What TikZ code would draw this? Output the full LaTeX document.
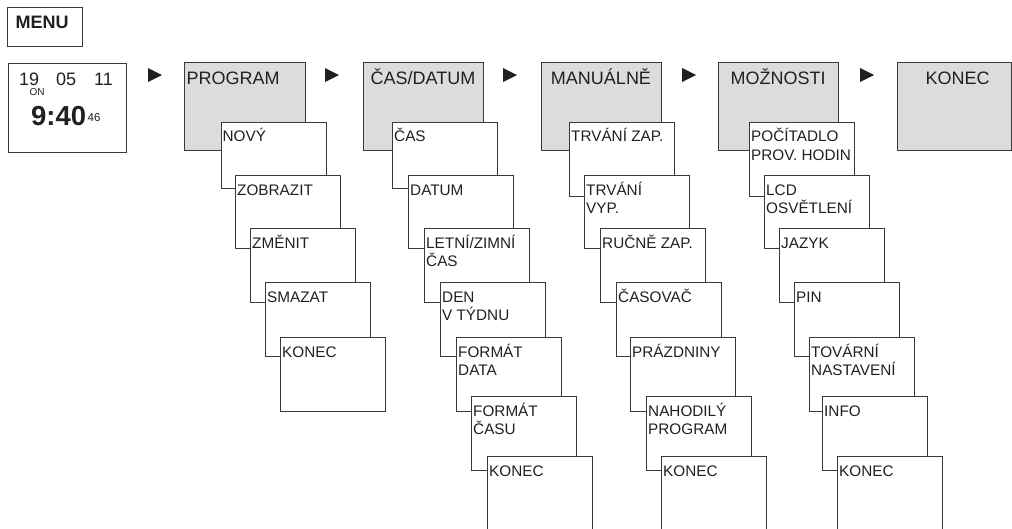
\documentclass[tikz,border=0pt]{standalone}
\usepackage{fontspec}
\setmainfont{Liberation Sans}
\definecolor{linec}{HTML}{3A3A3A}
\definecolor{boxgray}{HTML}{DCDCDC}
\definecolor{txt}{HTML}{231F20}
\newcommand\mysub[5]{%
  \node[subbox, minimum height={#4-#3}] (#1) at (#2,#3) {};
  \node[subtxt] (#1t) at ([xshift=2pt,yshift=-4pt]#1.north west) {\rule{0pt}{16pt}#5};}
\begin{document}
\begin{tikzpicture}[x=1pt,y=-1pt,
  plainbox/.style={draw=linec, line width=0.8pt, fill=white, rectangle, inner sep=0pt, anchor=north west},
  mainbox/.style={plainbox, fill=boxgray, minimum height=88},
  subbox/.style={plainbox, minimum width=105},
  subtxt/.style={anchor=north west, inner sep=0pt, align=left, text=txt, font=\fontsize{15.3}{18.3}\selectfont},
  maintxt/.style={inner sep=0pt, text=txt, font=\fontsize{18}{21}\selectfont},
  tri/.style={fill=txt}]
\useasboundingbox (0,0) rectangle (1012,528);
% MENU
\node[plainbox, minimum width=75, minimum height=39] (menu) at (7,7) {};
\node[inner sep=0pt, anchor=base west, text=txt, font=\fontsize{18}{21}\selectfont\bfseries] (menut) at (15.5,28.5) {MENU};
% clock
\node[plainbox, minimum width=118, minimum height=89] (clock) at (8,63) {};
\node[maintxt, anchor=base west] (c19) at (19,85) {19};
\node[maintxt, anchor=base west] (c05) at (56,85) {05};
\node[maintxt, anchor=base west] (c11) at (94,85) {11};
\node[inner sep=0pt, anchor=base west, text=txt, font=\fontsize{10}{12}\selectfont] (con) at (29.5,95) {ON};
\node[inner sep=0pt, anchor=base west, text=txt, font=\fontsize{27.5}{31}\selectfont\bfseries] (ctime) at (31,125.5) {9:40};
\node[inner sep=0pt, anchor=base west, text=txt, font=\fontsize{11.5}{13}\selectfont] (csec) at (87.5,121) {46};
% main boxes
\node[mainbox, minimum width=121] (prog) at (184,62) {};
\node[mainbox, minimum width=120] (cas) at (363,62) {};
\node[mainbox, minimum width=120] (man) at (541,62) {};
\node[mainbox, minimum width=120] (moz) at (718,62) {};
\node[mainbox, minimum width=114] (kon) at (897,62) {};
\node[maintxt, anchor=base west] (progt) at (186.5,84.5) {PROGRAM};
\node[maintxt, anchor=base] (cast) at (423,84.5) {ČAS/DATUM};
\node[maintxt, anchor=base] (mant) at (601,84.5) {MANUÁLNĚ};
\node[maintxt, anchor=base] (mozt) at (778,84.5) {MOŽNOSTI};
\node[maintxt, anchor=base] (kont) at (957.5,84.5) {KONEC};
% arrows
\fill[tri] (148,68) -- (162,75) -- (148,82) -- cycle;
\fill[tri] (325,68) -- (339,75) -- (325,82) -- cycle;
\fill[tri] (503,68) -- (517,75) -- (503,82) -- cycle;
\fill[tri] (682,68) -- (696,75) -- (682,82) -- cycle;
\fill[tri] (860,68) -- (874,75) -- (860,82) -- cycle;
% PROGRAM column
\mysub{p1}{220.5}{121.5}{187.5}{NOVÝ}
\mysub{p2}{235}{175}{248}{ZOBRAZIT}
\mysub{p3}{250}{228}{302}{ZMĚNIT}
\mysub{p4}{265}{282}{356}{SMAZAT}
\mysub{p5}{280}{337}{411}{KONEC}
% CAS/DATUM column
\mysub{c1}{392}{121.5}{187.5}{ČAS}
\mysub{c2}{408}{175}{248}{DATUM}
\mysub{c3}{424}{228}{302}{LETNÍ/ZIMNÍ\\ČAS}
\mysub{c4}{440}{282}{356}{DEN\\V TÝDNU}
\mysub{c5}{456}{337}{411}{FORMÁT\\DATA}
\mysub{c6}{471}{396}{470}{FORMÁT\\ČASU}
\mysub{c7}{487}{456}{531}{KONEC}
% MANUALNE column
\mysub{m1}{569}{121.5}{196}{TRVÁNÍ ZAP.}
\mysub{m2}{584}{175}{248}{TRVÁNÍ\\VYP.}
\mysub{m3}{600}{228}{302}{RUČNĚ ZAP.}
\mysub{m4}{616}{282}{356}{ČASOVAČ}
\mysub{m5}{630}{337}{411}{PRÁZDNINY}
\mysub{m6}{646}{396}{470}{NAHODILÝ\\PROGRAM}
\mysub{m7}{661}{456}{531}{KONEC}
% MOZNOSTI column
\mysub{o1}{749}{121.5}{196}{POČÍTADLO\\PROV. HODIN}
\mysub{o2}{764}{175}{248}{LCD\\OSVĚTLENÍ}
\mysub{o3}{779}{228}{302}{JAZYK}
\mysub{o4}{794}{282}{356}{PIN}
\mysub{o5}{809}{337}{411}{TOVÁRNÍ\\NASTAVENÍ}
\mysub{o6}{822}{396}{470}{INFO}
\mysub{o7}{837}{456}{531}{KONEC}
\end{tikzpicture}
\end{document}
